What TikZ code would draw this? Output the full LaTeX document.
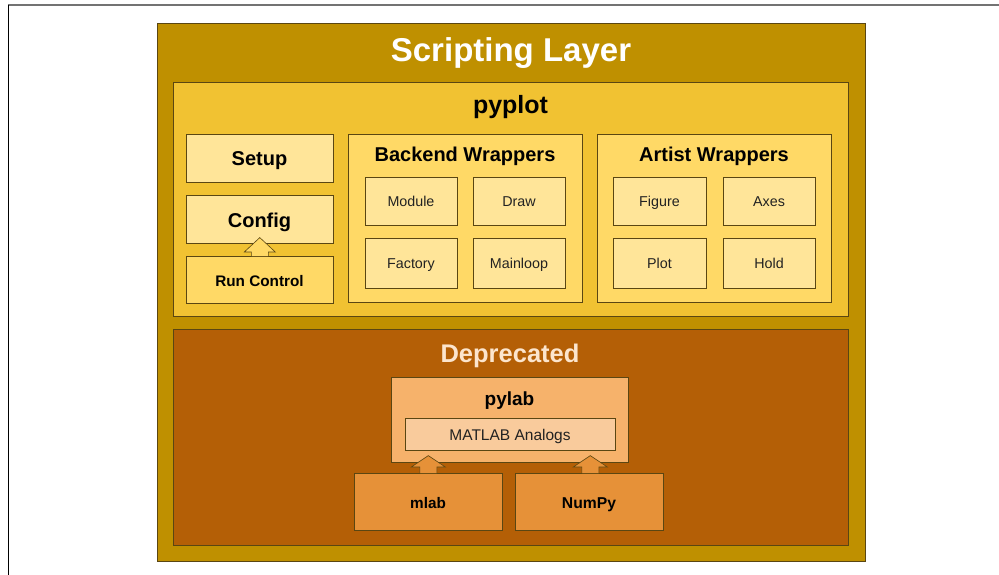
\documentclass[tikz,border=0pt]{standalone}
\usepackage{fontspec}
\setmainfont{Liberation Sans}
\usetikzlibrary{calc,shadows}
\definecolor{cScript}{HTML}{BF9000}
\definecolor{cPyplot}{HTML}{F1C232}
\definecolor{cLight}{HTML}{FFE599}
\definecolor{cMid}{HTML}{FFD966}
\definecolor{cDep}{HTML}{B45F06}
\definecolor{cPylab}{HTML}{F6B26B}
\definecolor{cMatlab}{HTML}{F9CB9C}
\definecolor{cOrange}{HTML}{E69138}
\definecolor{cDepText}{HTML}{FCE5CD}
\definecolor{cEdge}{HTML}{5A4612}
\definecolor{cText}{HTML}{222222}
\newcommand{\fs}[1]{\fontsize{#1}{#1}\selectfont}
\begin{document}
\begin{tikzpicture}[x=1pt,y=-1pt,
  box/.style={draw=cEdge, line width=0.6pt, anchor=north west, inner sep=0pt,
    drop shadow={shadow xshift=0.7pt, shadow yshift=-1pt, opacity=0.35, fill=black}},
  bigtitle/.style={anchor=base, inner sep=0pt, font=\bfseries\fs{33}, text=white},
  title/.style={anchor=base, inner sep=0pt, font=\bfseries\fs{20}, text=black},
  small/.style={anchor=base, inner sep=0pt, font=\fs{14.3}, text=cText},
  smallbold/.style={anchor=base, inner sep=0pt, font=\bfseries\fs{15.3}, text=black},
  blockarrow/.style={draw=cEdge, line width=0.6pt, line join=miter}
]
\useasboundingbox (0,0) rectangle (999,575);
\fill[white] (0,0) rectangle (999,575);
% page frame
\coordinate (fTL) at (8,5);
\coordinate (fTR) at (999,5);
\coordinate (fBL) at (8,575);
\draw[line width=1.6pt, color=black!55] (fTL) -- (fTR);
\draw[line width=1pt, color=black] (fTL) -- (fBL);

% Scripting layer
\node[box, fill=cScript, minimum width=708pt, minimum height=538pt] (script) at (157,23) {};
\node[bigtitle] (scriptT) at (511,62) {Scripting Layer};

% pyplot
\node[box, fill=cPyplot, minimum width=675pt, minimum height=234pt] (pyplot) at (173,82) {};
\node[anchor=base, inner sep=0pt, font=\bfseries\fs{25}] (pyplotT) at (510.5,114) {pyplot};

% left column
\node[box, fill=cLight, minimum width=147pt, minimum height=48pt] (setup) at (186,134) {};
\node[title] (setupT) at (259.5,165) {Setup};
\node[box, fill=cLight, minimum width=147pt, minimum height=48pt] (config) at (186,195) {};
\node[title] (configT) at (259.5,227) {Config};
\node[box, fill=cMid, minimum width=147pt, minimum height=47pt] (runctl) at (186,256) {};
\node[smallbold] (runctlT) at (259.5,286) {Run Control};

% Backend wrappers
\node[box, fill=cMid, minimum width=234pt, minimum height=168pt] (backend) at (348,134) {};
\node[title] (backendT) at (465,161) {Backend Wrappers};
\node[box, fill=cLight, minimum width=92pt, minimum height=48pt] (module) at (365,177) {};
\node[small] (moduleT) at (411,206) {Module};
\node[box, fill=cLight, minimum width=92pt, minimum height=48pt] (draw) at (473,177) {};
\node[small] (drawT) at (519,206) {Draw};
\node[box, fill=cLight, minimum width=92pt, minimum height=50pt] (factory) at (365,238) {};
\node[small] (factoryT) at (411,268) {Factory};
\node[box, fill=cLight, minimum width=92pt, minimum height=50pt] (mainloop) at (473,238) {};
\node[small] (mainloopT) at (519,268) {Mainloop};

% Artist wrappers
\node[box, fill=cMid, minimum width=234pt, minimum height=168pt] (artist) at (597,134) {};
\node[title] (artistT) at (714,161) {Artist Wrappers};
\node[box, fill=cLight, minimum width=93pt, minimum height=48pt] (figure) at (613,177) {};
\node[small] (figureT) at (659.5,206) {Figure};
\node[box, fill=cLight, minimum width=92pt, minimum height=48pt] (axes) at (723,177) {};
\node[small] (axesT) at (769,206) {Axes};
\node[box, fill=cLight, minimum width=93pt, minimum height=50pt] (plot) at (613,238) {};
\node[small] (plotT) at (659.5,268) {Plot};
\node[box, fill=cLight, minimum width=92pt, minimum height=50pt] (hold) at (723,238) {};
\node[small] (holdT) at (769,268) {Hold};

% arrow Run Control -> Config
\draw[blockarrow, fill=cMid]
  ($(runctl.north)+(-8.5,0)$) -- ++(0,-4) -- ++(-7,0)
  -- ($(runctl.north |- config.south)+(0,-6)$)
  -- ($(runctl.north)+(15.5,-4)$) -- ++(-7,0) -- ($(runctl.north)+(8.5,0)$);

% Deprecated
\node[box, fill=cDep, minimum width=675pt, minimum height=216pt] (dep) at (173,329) {};
\node[anchor=base, inner sep=0pt, font=\bfseries\fs{25.5}, text=cDepText] (depT) at (510,362) {Deprecated};

\node[box, fill=cPylab, minimum width=237pt, minimum height=85pt] (pylab) at (391,377) {};
\node[title, font=\bfseries\fs{19}] (pylabT) at (509.5,405) {pylab};
\node[box, fill=cMatlab, minimum width=210pt, minimum height=32pt] (matlab) at (405,418) {};
\node[small, font=\fs{15.5}] (matlabT) at (510,440) {MATLAB Analogs};

\node[box, fill=cOrange, minimum width=148pt, minimum height=57pt] (mlab) at (354,473) {};
\node[smallbold] (mlabT) at (428,508) {mlab};
\node[box, fill=cOrange, minimum width=148pt, minimum height=57pt] (numpy) at (515,473) {};
\node[smallbold, font=\bfseries\fs{15.7}] (numpyT) at (589,508) {NumPy};

% arrows mlab/NumPy -> pylab
\draw[blockarrow, fill=cOrange]
  ($(mlab.north)+(-8.5,0)$) -- ++(0,-6) -- ++(-8.5,0)
  -- ($(mlab.north |- pylab.south)+(0,-7)$)
  -- ($(mlab.north)+(17,-6)$) -- ++(-8.5,0) -- ($(mlab.north)+(8.5,0)$);
\draw[blockarrow, fill=cOrange]
  ($(numpy.north)+(-7.5,0)$) -- ++(0,-6) -- ++(-8.5,0)
  -- ($(numpy.north |- pylab.south)+(1,-7)$)
  -- ($(numpy.north)+(18,-6)$) -- ++(-8.5,0) -- ($(numpy.north)+(9.5,0)$);
\end{tikzpicture}
\end{document}
